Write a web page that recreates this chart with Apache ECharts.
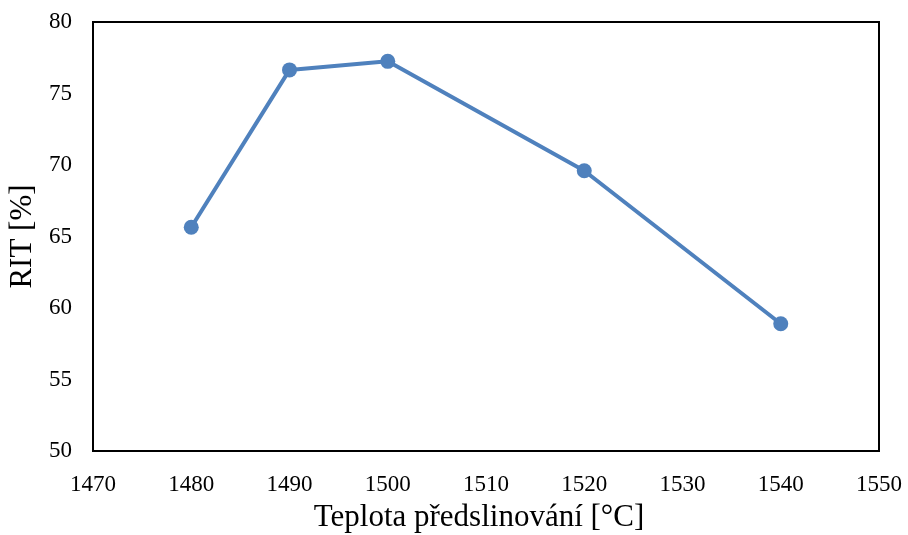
<!DOCTYPE html>
<html>
<head>
<meta charset="utf-8">
<script src="https://cdn.jsdelivr.net/npm/echarts@6/dist/echarts.min.js"></script>
<style>html,body{margin:0;padding:0;background:#fff}#c{width:908px;height:535px}</style>
</head>
<body>
<div id="c"></div>
<script>
const temperatures = [1480, 1490, 1500, 1520, 1540];
const ritValues = [65.65, 76.65, 77.25, 69.6, 58.9];
const xTitle = 'Teplota předslinování [°C]';
const yTitle = 'RIT [%]';

const chart = echarts.init(document.getElementById('c'), null, {renderer: 'canvas'});
const font = '"Liberation Serif", "Times New Roman", serif';
chart.setOption({
  animation: false,
  backgroundColor: '#fff',
  grid: {left: 93, top: 22, right: 29, bottom: 84, containLabel: false, outerBoundsMode: 'none',
         show: true, borderColor: '#000', borderWidth: 2, backgroundColor: 'transparent'},
  xAxis: {
    type: 'value', min: 1470, max: 1550, interval: 10,
    name: xTitle, nameLocation: 'middle', nameGap: 51,
    nameTextStyle: {fontFamily: font, fontSize: 31, color: '#000', padding: [0, 14, 0, 0]},
    axisLine: {show: true, lineStyle: {color: '#000', width: 2}},
    axisTick: {show: false},
    splitLine: {show: false},
    axisLabel: {fontFamily: font, fontSize: 23, color: '#000', margin: 22, formatter: v => String(v)}
  },
  yAxis: {
    type: 'value', min: 50, max: 80, interval: 5,
    name: yTitle, nameLocation: 'middle', nameGap: 44,
    nameTextStyle: {fontFamily: font, fontSize: 31, color: '#000'},
    axisLine: {show: true, lineStyle: {color: '#000', width: 2}},
    axisTick: {show: false},
    splitLine: {show: false},
    axisLabel: {fontFamily: font, fontSize: 23, color: '#000', margin: 21}
  },
  series: [{
    type: 'line',
    data: temperatures.map((t, i) => [t, ritValues[i]]),
    symbol: 'circle', symbolSize: 15,
    lineStyle: {color: '#4f81bd', width: 4},
    itemStyle: {color: '#4f81bd'}
  }]
});
</script>
</body>
</html>
